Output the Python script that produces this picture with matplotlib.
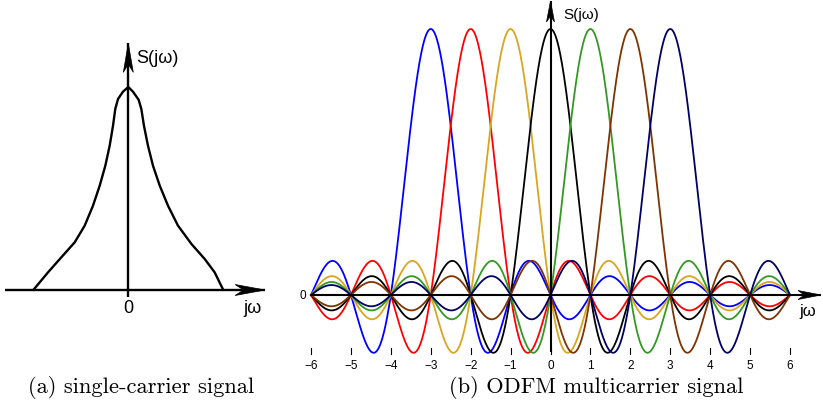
import numpy as np
import matplotlib
matplotlib.use("Agg")
import matplotlib.pyplot as plt
from matplotlib.patches import Polygon
from matplotlib.transforms import ScaledTranslation

# ---------------- data ----------------
# (a) single-carrier spectrum (omega normalised, S normalised)
single_w = [-1.0, -0.845, -0.705, -0.564, -0.459, -0.372, -0.301, -0.242, -0.196,
            -0.161, -0.137, -0.108, -0.056, 0.0, 0.049, 0.109, 0.137, 0.165,
            0.207, 0.260, 0.331, 0.418, 0.523, 0.664, 0.804, 0.909, 1.0]
single_S = [0.0, 0.087, 0.161, 0.235, 0.317, 0.415, 0.514, 0.612, 0.711,
            0.809, 0.892, 0.941, 0.977, 1.0, 0.977, 0.937, 0.892, 0.809,
            0.711, 0.612, 0.514, 0.415, 0.317, 0.227, 0.153, 0.087, 0.0]

# (b) OFDM sub-carriers: centre frequencies and colours
carrier_centers = [-3, -2, -1, 0, 1, 2, 3]
carrier_colors = ["#0000ff", "#ff0000", "#daa520", "#000000", "#339922", "#7f3300", "#000066"]
omega_range = (-6, 6)
tick_values = [-6, -5, -4, -3, -2, -1, 0, 1, 2, 3, 4, 5, 6]
tick_labels = ["\u22126", "\u22125", "\u22124", "\u22123", "\u22122", "\u22121",
               "0", "1", "2", "3", "4", "5", "6"]

caption_a = "(a) single-carrier signal"
caption_b = "(b) ODFM multicarrier signal"

# ---------------- figure ----------------
W, H = 823, 406
DPI = 100
fig = plt.figure(figsize=(W / DPI, H / DPI), dpi=DPI)
sans = ["Liberation Sans", "DejaVu Sans"]
serif = ["cmr10", "DejaVu Serif"]


def axes_px(x0, x1, y0, y1):
    """axes covering pixel box (x0..x1, y0..y1 measured from top)"""
    return fig.add_axes([x0 / W, 1 - y1 / H, (x1 - x0) / W, (y1 - y0) / H])


def arrow(ax, start, tip, length_px, width_px, lw):
    """axis line with a stealth-like arrow head (head size in pixels)"""
    vertical = start[0] == tip[0]
    L = length_px / DPI
    w = width_px / 2 / DPI
    if vertical:
        verts = [(0, 0), (-w, -L), (0, -0.72 * L), (w, -L)]
    else:
        verts = [(0, 0), (-L, w), (-0.72 * L, 0), (-L, -w)]
    tr = fig.dpi_scale_trans + ScaledTranslation(tip[0], tip[1], ax.transData)
    ax.add_patch(Polygon(verts, closed=True, transform=tr, facecolor="black",
                         edgecolor="black", lw=0.5, zorder=6, clip_on=False))
    ax.plot([start[0], tip[0]], [start[1], tip[1]], color="black", lw=lw,
            zorder=5, solid_capstyle="butt", clip_on=False)


# ---- left panel ----
axL = axes_px(0, 280, 0, 340)
axL.set_xlim(-128.3 / 95, (280 - 128.3) / 95)
axL.set_ylim(-(340 - 291) / 203, 291 / 203)
axL.axis("off")
axL.plot(single_w, single_S, color="black", lw=1.7, solid_joinstyle="round",
         solid_capstyle="round", zorder=3)
arrow(axL, (-1.298, 0), (1.44, 0), 30, 11, 1.7)
arrow(axL, (0, -0.034), (0, 1.215), 29, 10, 1.7)
axL.text(0.085, 1.145, "S(j\u03c9)", fontsize=13, family=sans, ha="left", va="center")
axL.text(0, -0.085, "0", fontsize=13, family=sans, ha="center", va="center")
axL.text(1.305, -0.085, "j\u03c9", fontsize=13, family=sans, ha="center", va="center")

# ---- right panel ----
axR = axes_px(290, 823, 0, 375)
ux = 39.92
axR.set_xlim(-6 - (311 - 290) / ux, 6 + (823 - 790) / ux)
axR.set_ylim(-(375 - 296) / 266, 296 / 266)
axR.axis("off")

w = np.linspace(omega_range[0], omega_range[1], 1201)
for c, col in zip(carrier_centers, carrier_colors):
    axR.plot(w, np.sinc(w - c), color=col, lw=1.3, zorder=2)

arrow(axR, (omega_range[0], 0), ((821 - 550.5) / ux, 0), 23, 9, 1.5)
arrow(axR, (0, -0.214), (0, (296 - 2) / 266), 21, 8, 1.5)

for t, lab in zip(tick_values, tick_labels):
    axR.plot([t, t], [-0.2, -0.22], color="black", lw=0.8)
    axR.text(t, -0.262, lab, fontsize=8.5, family=sans, ha="center", va="center")

axR.text(-6.12, 0.0, "0", fontsize=8.5, family=sans, ha="right", va="center")
axR.text(0.31, 1.056, "S(j\u03c9)", fontsize=11, family=sans, ha="left", va="center")
axR.text(6.45, -0.06, "j\u03c9", fontsize=12, family=sans, ha="center", va="center")

# ---- captions ----
fig.text(28 / W, 1 - 388 / H, caption_a, fontsize=16.2, family=serif,
         ha="left", va="center")
fig.text(449 / W, 1 - 388 / H, caption_b, fontsize=16.2, family=serif,
         ha="left", va="center")

fig.savefig("out.png", dpi=DPI)
